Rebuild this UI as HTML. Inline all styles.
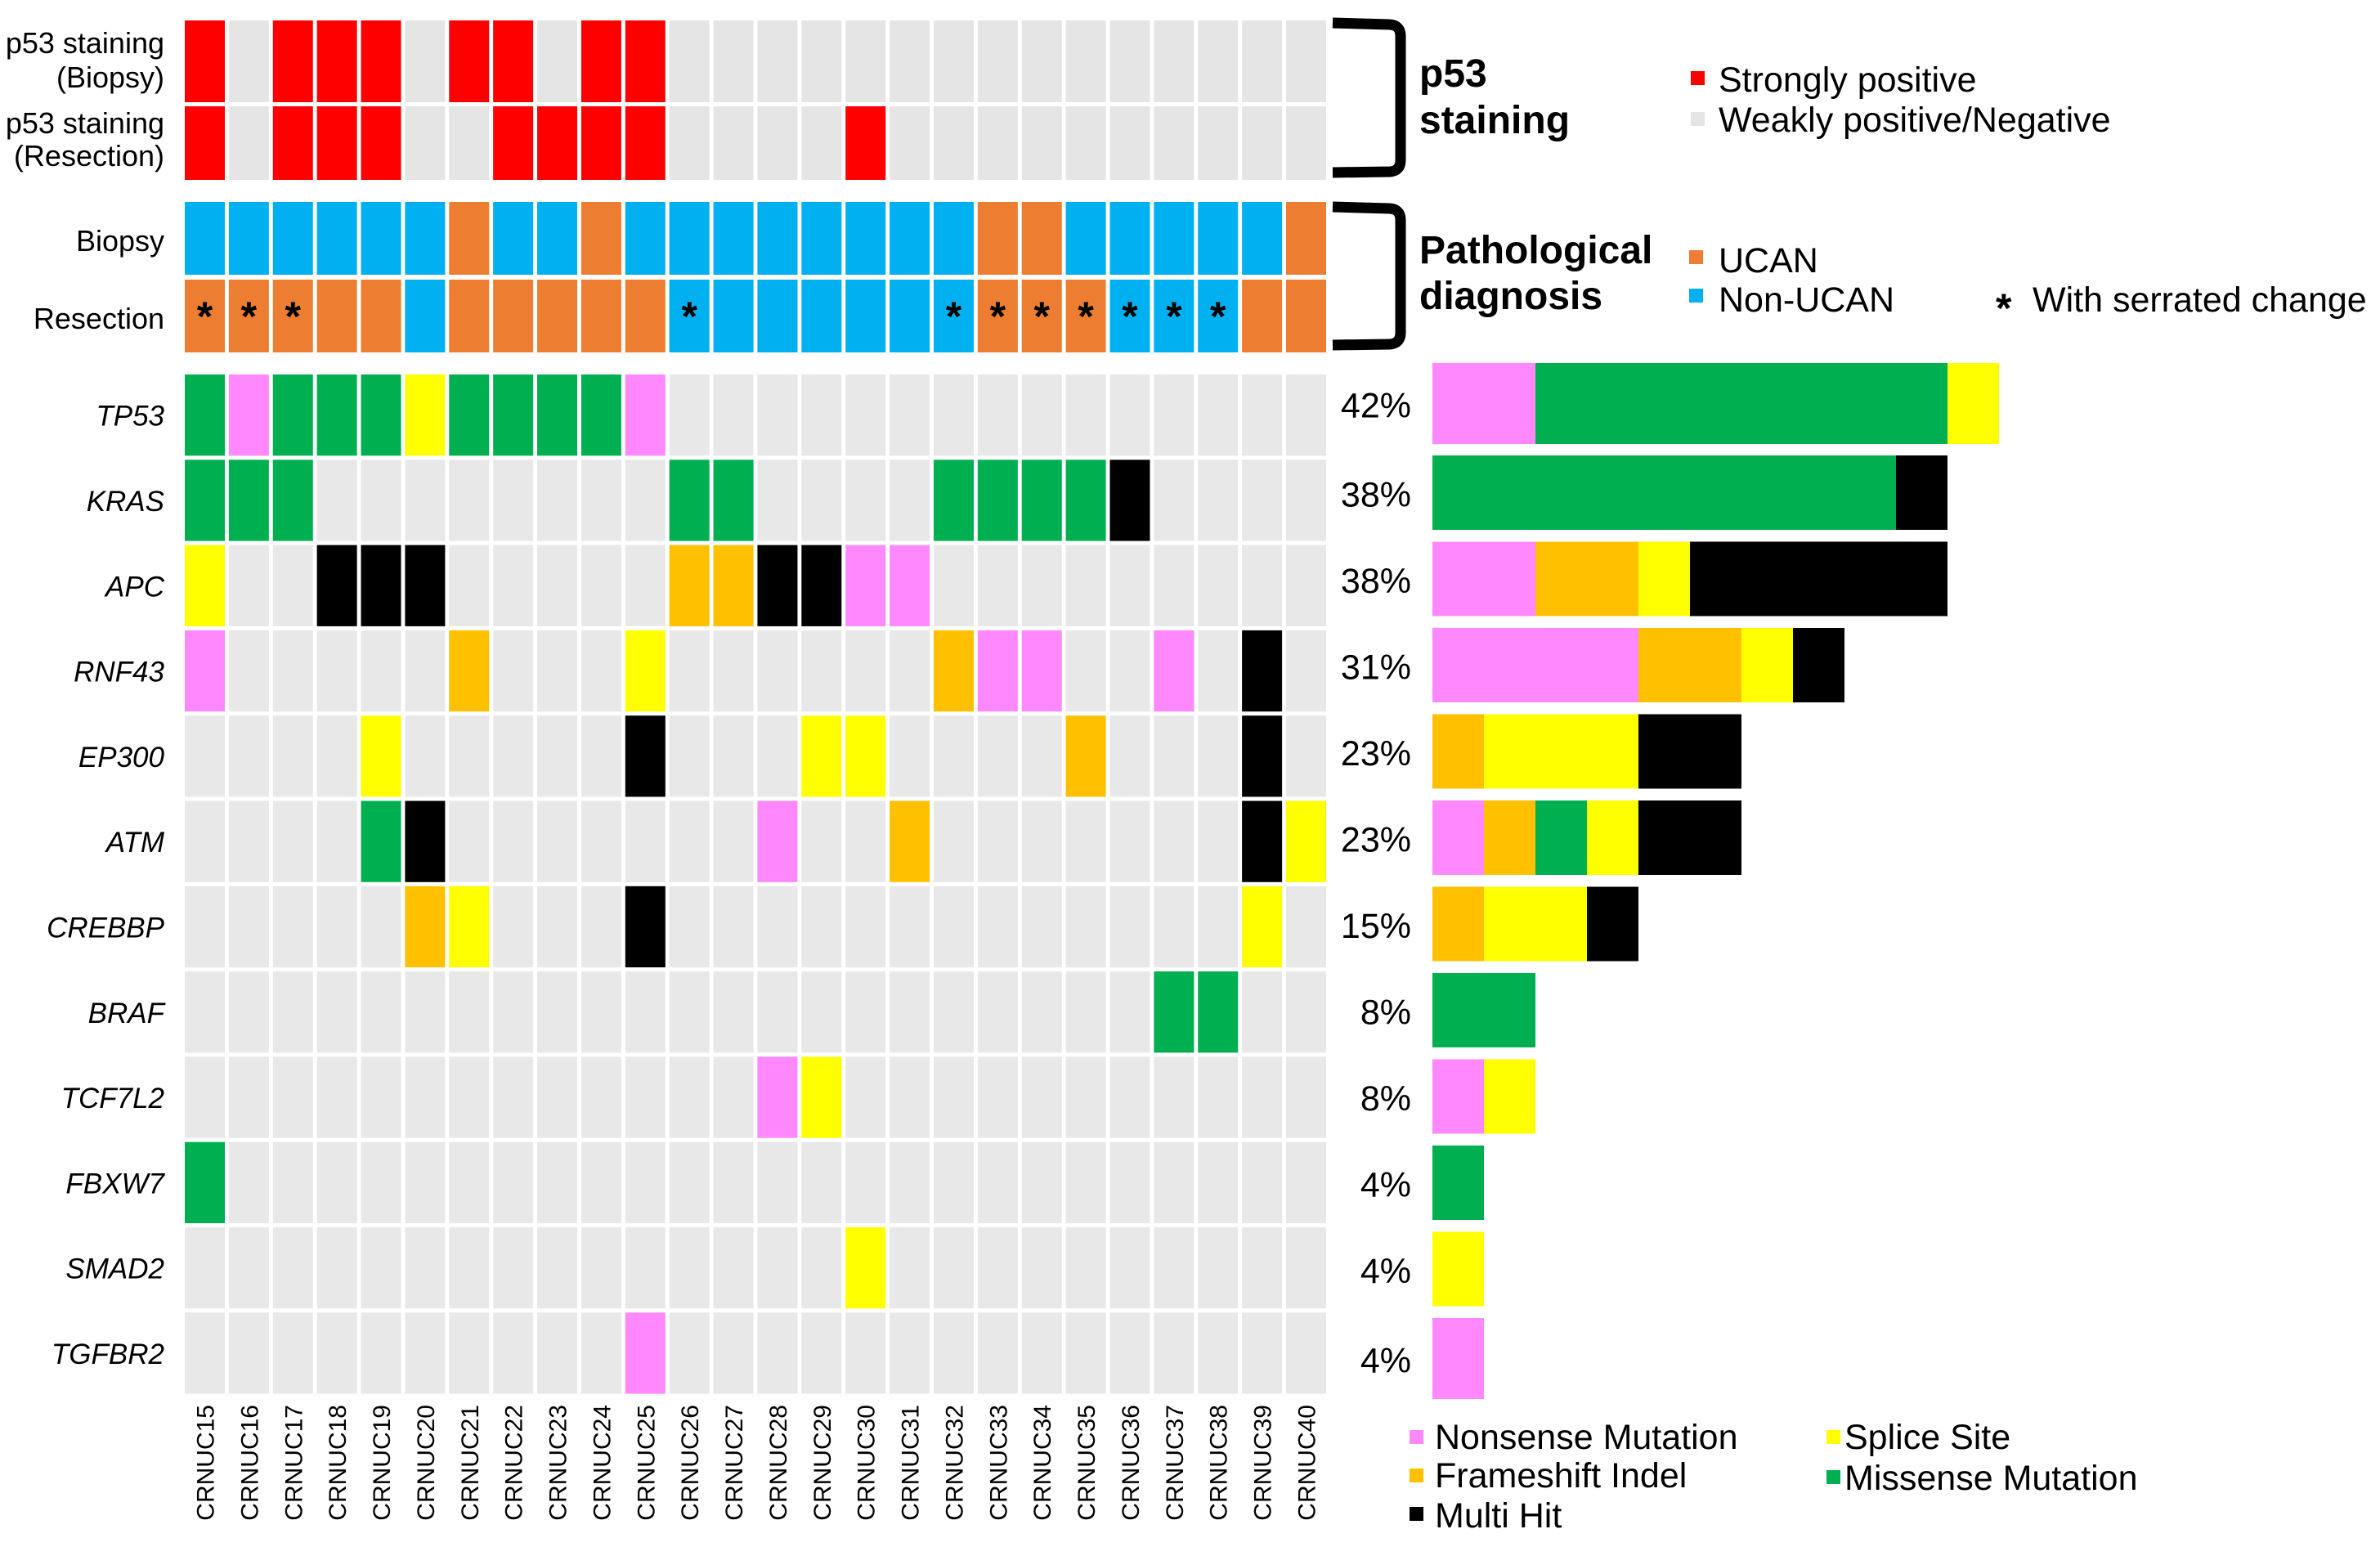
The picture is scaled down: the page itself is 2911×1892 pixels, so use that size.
<!DOCTYPE html>
<html><head><meta charset="utf-8"><style>
html,body{margin:0;padding:0;background:#fff;}
svg{display:block;font-family:"Liberation Sans",Arial,sans-serif;}
</style></head><body>
<svg id="chart" width="2911" height="1892" viewBox="0 0 2911 1892" xmlns="http://www.w3.org/2000/svg">
<g id="left-labels" font-size="36" text-anchor="end" fill="#000">
  <text x="201" y="65">p53 staining</text>
  <text x="201" y="107">(Biopsy)</text>
  <text x="201" y="163">p53 staining</text>
  <text x="201" y="203">(Resection)</text>
  <text x="201" y="307">Biopsy</text>
  <text x="201" y="402">Resection</text>
</g>
<g id="cells"></g>
<g id="bars"></g>
<g id="brackets" fill="none" stroke="#000" stroke-width="13">
  <path d="M1630 28 L1700 30 Q1713 31 1713 44 L1713 196 Q1713 209 1700 210 L1630 211"/>
  <path d="M1630 253 L1700 255 Q1713 256 1713 269 L1713 407 Q1713 420 1700 421 L1630 422"/>
</g>
<g font-weight="bold" font-size="48" fill="#000">
  <text x="1736" y="106">p53</text>
  <text x="1736" y="163">staining</text>
  <text x="1736" y="322">Pathological</text>
  <text x="1736" y="378">diagnosis</text>
</g>
<g font-size="43" fill="#000">
  <g><rect x="2068" y="87" width="17" height="17" fill="#ff0000"/><text x="2102" y="112">Strongly positive</text></g>
  <g><rect x="2068" y="137" width="17" height="17" fill="#e5e5e5"/><text x="2102" y="161">Weakly positive/Negative</text></g>
  <g><rect x="2066" y="306" width="17" height="17" fill="#ed7d31"/><text x="2102" y="333">UCAN</text></g>
  <g><rect x="2066" y="353" width="17" height="17" fill="#00b0f0"/><text x="2102" y="381">Non-UCAN</text></g>
  <g><text x="2441" y="394" font-weight="bold" font-size="50">*</text><text x="2486" y="381">With serrated change</text></g>
  <g><rect x="1724" y="1749" width="17" height="17" fill="#ff88ff"/><text x="1755" y="1772">Nonsense Mutation</text></g>
  <g><rect x="1724" y="1796" width="17" height="17" fill="#ffc000"/><text x="1755" y="1819">Frameshift Indel</text></g>
  <g><rect x="1724" y="1843" width="17" height="17" fill="#000"/><text x="1755" y="1868">Multi Hit</text></g>
  <g><rect x="2234" y="1749" width="17" height="17" fill="#ffff00"/><text x="2256" y="1772">Splice Site</text></g>
  <g><rect x="2234" y="1798" width="17" height="17" fill="#00b050"/><text x="2256" y="1822">Missense Mutation</text></g>
</g>
</svg>
<script>
const samples = ["CRNUC15","CRNUC16","CRNUC17","CRNUC18","CRNUC19","CRNUC20","CRNUC21","CRNUC22","CRNUC23","CRNUC24","CRNUC25","CRNUC26","CRNUC27","CRNUC28","CRNUC29","CRNUC30","CRNUC31","CRNUC32","CRNUC33","CRNUC34","CRNUC35","CRNUC36","CRNUC37","CRNUC38","CRNUC39","CRNUC40"];
const p53Biopsy    = "RgRRRgRRgRRggggggggggggggg";
const p53Resection = "RgRRRggRRRRggggRgggggggggg";
const diagBiopsy    = "BBBBBBOBBOBBBBBBBBOOBBBBBO";
const diagResection = "OOOOOBOOOOOBBBBBBBOOOBBBOO";
const serrated      = "***........*.....*******..";
const genes = ["TP53","KRAS","APC","RNF43","EP300","ATM","CREBBP","BRAF","TCF7L2","FBXW7","SMAD2","TGFBR2"];
const percents = ["42%","38%","38%","31%","23%","23%","15%","8%","8%","4%","4%","4%"];
const mutTP53   = "MNMMMSMMMMN...............";
const mutKRAS   = "MMM........MM....MMMMX....";
const mutAPC    = "S..XXX.....FFXXNN.........";
const mutRNF43  = "N.....F...S......FNN..N.X.";
const mutEP300  = "....S.....X...SS....F...X.";
const mutATM    = "....MX.......N..F.......XS";
const mutCREBBP = ".....FS...X.............S.";
const mutBRAF   = "......................MM..";
const mutTCF7L2 = ".............NS...........";
const mutFBXW7  = "M.........................";
const mutSMAD2  = "...............S..........";
const mutTGFBR2 = "..........N...............";
const mutations = [mutTP53,mutKRAS,mutAPC,mutRNF43,mutEP300,mutATM,mutCREBBP,mutBRAF,mutTCF7L2,mutFBXW7,mutSMAD2,mutTGFBR2];
const barOrder = ["N","F","M","S","X"];

const NS="http://www.w3.org/2000/svg";
const colX = i => 226 + i*53.88;
const cellW = 49;
const geneY = g => 458 + g*104.3;
const geneH = 99.3;
const barTop = g => g===0 ? 444 : 557 + (g-1)*105.5;
const barH = g => (g===0 || g===genes.length-1) ? 99 : 91;
const unitW = 63;
const barX0 = 1752;
const colors = {R:"#ff0000",g:"#e5e5e5",B:"#00b0f0",O:"#ed7d31",N:"#ff88ff",F:"#ffc000",S:"#ffff00",M:"#00b050",X:"#000000",".":"#e8e8e8"};
function mk(tag, attrs, parent){const e=document.createElementNS(NS,tag);for(const k in attrs)e.setAttribute(k,attrs[k]);parent.appendChild(e);return e;}
const cells=document.getElementById('cells'), bars=document.getElementById('bars');
const annRows=[[p53Biopsy,25,100,'p53-biopsy-cell'],[p53Resection,130,90,'p53-resection-cell'],[diagBiopsy,247,89,'biopsy-diagnosis-cell'],[diagResection,342,89,'resection-diagnosis-cell']];
annRows.forEach(([s,y,h,name])=>{
  for(let i=0;i<samples.length;i++){
    const r=mk('rect',{x:colX(i),y:y,width:cellW,height:h,fill:colors[s[i]]},cells);
    
    
  }
});
for(let i=0;i<samples.length;i++){
  if(serrated[i]==='*'){
    const t=mk('text',{x:colX(i)+cellW/2,y:404,'text-anchor':'middle','font-size':50,'font-weight':'bold'},cells);
    t.textContent='*';
    
    
  }
  const lx=colX(i)+cellW/2+11, ly=1718;
  const t=mk('text',{x:lx,y:ly,'text-anchor':'end','font-size':30,transform:`rotate(-90 ${lx} ${ly})`},cells);
  t.textContent=samples[i];
  
  
}
genes.forEach((gname,g)=>{
  const y=geneY(g), m=mutations[g];
  const lab=mk('text',{x:201,y:y+geneH/2+13,'text-anchor':'end','font-size':35,'font-style':'italic'},cells);
  lab.textContent=gname;
  
  
  for(let i=0;i<samples.length;i++){
    const r=mk('rect',{x:colX(i),y:y,width:cellW,height:geneH,fill:colors[m[i]]},cells);
    
    
  }
  const by=barTop(g), bh=barH(g);
  const p=mk('text',{x:1726,y:by+bh/2+17,'text-anchor':'end','font-size':43},bars);
  p.textContent=percents[g];
  
  
  let x=barX0;
  barOrder.forEach(t=>{
    const n=[...m].filter(c=>c===t).length;
    if(n>0){
      const b=mk('rect',{x:x,y:by,width:n*unitW,height:bh,fill:colors[t]},bars);
      
      
      x+=n*unitW;
    }
  });
});
</script>
</body></html>
